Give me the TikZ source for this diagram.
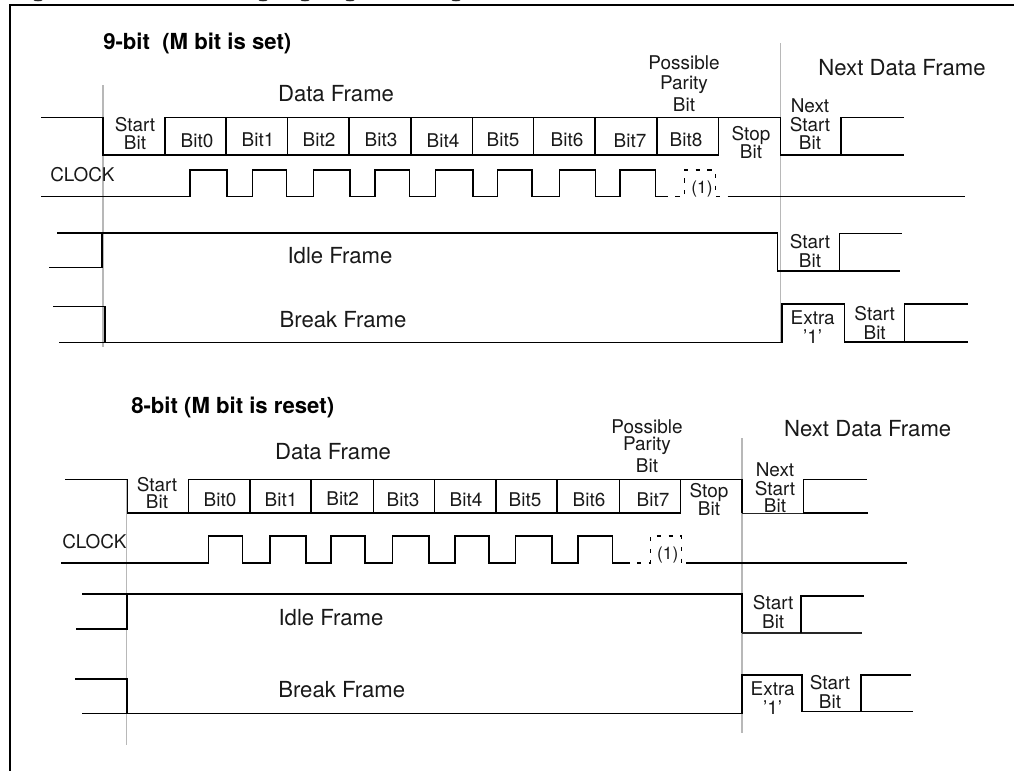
\documentclass[tikz,border=0pt]{standalone}
\usepackage{fontspec}
\setmainfont{TeX Gyre Heros}
\tikzset{
  wave/.style={line width=1.05pt,line cap=butt,line join=miter},
  thinwave/.style={line width=.6pt,draw=black!85},
  dash wave/.style={line width=1pt,dash pattern=on 3.2pt off 5.6pt},
  guide/.style={draw=black!28,line width=1.05pt},
  framebox/.style={line width=1.3pt},
  lab/.style={inner sep=0pt,align=center,font=\fontsize{14.2}{14.2}\selectfont,text=black!90},
  biglab/.style={inner sep=0pt,align=center,font=\fontsize{16.6}{18}\selectfont,text=black!90},
  ttl/.style={inner sep=0pt,anchor=west,font=\fontsize{16.6}{18}\selectfont\bfseries},
  small/.style={inner sep=0pt,font=\fontsize{13}{14}\selectfont,text=black!90},
}
\begin{document}
\begin{tikzpicture}[x=0.75pt,y=-0.75pt]
\useasboundingbox (0,0) rectangle (1014,771);
\clip (0,0) rectangle (1014,771);
% outer frame and the cut-off descenders of the caption above it
\draw[framebox] (10,771) -- (10,5) -- (1014,5);
\foreach \gx in {38,263,305,350,456} \fill[black!85] (\gx,0) ellipse [x radius=4.5,y radius=1.3];

% ---------- 9-bit ----------
\node[ttl] (t9) at (103,43) {9-bit\ \ (M bit is set)};
\draw[guide] (103,85) -- (103,347);
\draw[guide] (780.3,43) -- (780.3,343);
% data frame
\draw[wave] (41,117.5) -- (103,117.5) -- (103,155) -- (718.7,155);
\draw[wave] (165,155) -- (165,117.5) -- (780.3,117.5) -- (780.3,155) -- (904,155);
\foreach \bx in {226,287.7,349,411,472.3,533.7,595,657,718.7} \draw[wave] (\bx,117.5) -- (\bx,155);
\draw[wave] (841,155) -- (841,117.5) -- (904,117.5);
\node[biglab] (df9) at (336,94) {Data Frame};
\node[biglab] (ndf9) at (902,68) {Next Data Frame};
\node[lab] (pp9) at (684,83.5) {Possible\\[1pt]Parity\\[2.5pt]Bit};
\node[lab] (sb9) at (135,133.5) {Start\\Bit};
\node[lab] at (197,141) {Bit0};
\node[lab] at (258,140) {Bit1};
\node[lab] at (319,140) {Bit2};
\node[lab] at (381,140) {Bit3};
\node[lab] at (443,141) {Bit4};
\node[lab] at (503,140) {Bit5};
\node[lab] at (567,140) {Bit6};
\node[lab] at (630,141) {Bit7};
\node[lab] at (686,140) {Bit8};
\node[lab] at (751,142.5) {Stop\\Bit};
\node[lab] at (810,124) {Next\\Start\\[-1pt]Bit};
% clock
\node[lab,anchor=west] at (50,175) {CLOCK};
\draw[wave] (41,196.7) -- (190,196.7) -- (190,170) -- (227,170) -- (227,196.7)
  -- (252.3,196.7) -- (252.3,170) -- (286.3,170) -- (286.3,196.7)
  -- (313.3,196.7) -- (313.3,170) -- (350,170) -- (350,196.7)
  -- (375,196.7) -- (375,170) -- (409.3,170) -- (409.3,196.7)
  -- (435.7,196.7) -- (435.7,170) -- (473,170) -- (473,196.7)
  -- (497.7,196.7) -- (497.7,170) -- (532,170) -- (532,196.7)
  -- (559.3,196.7) -- (559.3,170) -- (595.3,170) -- (595.3,196.7)
  -- (620,196.7) -- (620,170) -- (655.3,170) -- (655.3,196.7) -- (663.7,196.7);
\draw[dash wave] (663.7,196.7) -- (684.7,196.7) -- (684.7,170) -- (715.3,170) -- (715.3,196.7) -- (732,196.7);
\draw[wave] (732,196.7) -- (965.3,196.7);
\node[small] at (702,189) {(1)};
% idle frame
\draw[wave] (49,267.7) -- (102,267.7) -- (102,233);
\draw[wave] (57,233) -- (777.7,233) -- (777.7,271) -- (899.7,271);
\draw[wave] (839.7,271) -- (839.7,233.7) -- (902,233.7);
\node[biglab] at (340,256) {Idle Frame};
\node[lab] at (810,251.2) {Start\\Bit};
% break frame
\draw[wave] (53,306.7) -- (105,306.7) -- (105,342.7);
\draw[wave] (59,342.7) -- (782,342.7) -- (782,304) -- (844.3,304) -- (844.3,342) -- (968,342);
\draw[wave] (904.7,342) -- (904.7,304) -- (968,304);
\node[biglab] at (343,319.3) {Break Frame};
\node[lab] at (812.7,327.2) {Extra\\’1’};
\node[lab] at (874.7,322.8) {Start\\Bit};

% ---------- 8-bit ----------
\node[ttl] (t8) at (131,407) {8-bit (M bit is reset)};
\draw[guide,line width=.8pt] (126.5,479) -- (126.5,745);
\draw[guide] (742,438) -- (742,732.7);
% data frame
\draw[wave] (65,479.3) -- (127.3,479.3) -- (127.3,513) -- (681.3,513);
\draw[wave] (188.7,513) -- (188.7,479.3) -- (742,479.3) -- (742,513);
\foreach \bx in {250,311,373.3,434.3,496,557,619.3,680.3} \draw[wave] (\bx,479.3) -- (\bx,513);
\draw[thinwave] (742,513) -- (803.7,513);
\draw[wave] (868,513) -- (803.7,513) -- (803.7,479.3) -- (867,479.3);
\node[biglab] at (333,451.7) {Data Frame};
\node[biglab] at (867.7,429) {Next Data Frame};
\node[lab] at (647,446.5) {Possible\\[-1.6pt]Parity\\[2.5pt]Bit};
\node[lab] at (157,492.8) {Start\\[-1pt]Bit};
\node[lab] at (220,500) {Bit0};
\node[lab] at (281,500) {Bit1};
\node[lab] at (342.7,499) {Bit2};
\node[lab] at (403,500) {Bit3};
\node[lab] at (466,500) {Bit4};
\node[lab] at (525,500) {Bit5};
\node[lab] at (589,500) {Bit6};
\node[lab] at (653,500) {Bit7};
\node[lab] at (709,499.5) {Stop\\[-1pt]Bit};
\node[lab] at (775,487.5) {Next\\Start\\[-1.3pt]Bit};
% clock
\node[lab,anchor=west] at (62,541.7) {CLOCK};
\draw[wave] (61,563) -- (208.3,563) -- (208.3,536) -- (242.3,536) -- (242.3,563)
  -- (270,563) -- (270,536) -- (306,536) -- (306,563)
  -- (331,563) -- (331,536) -- (365,536) -- (365,563)
  -- (392.7,563) -- (392.7,536) -- (429,536) -- (429,563)
  -- (455,563) -- (455,536) -- (489,536) -- (489,563)
  -- (515.3,563) -- (515.3,536) -- (552,536) -- (552,563)
  -- (578,563) -- (578,536) -- (612.3,536) -- (612.3,563) -- (625.3,563);
\draw[dash wave] (625.3,563) -- (650.3,563) -- (650.3,536) -- (681.3,536) -- (681.3,563) -- (686.3,563);
\draw[wave] (686.3,563) -- (907,563);
\node[small] at (667.7,555) {(1)};
% idle frame
\draw[wave] (76,629) -- (127,629) -- (127,594);
\draw[wave] (82,594) -- (742,594) -- (742,633);
\draw[thinwave,line width=.8pt] (742,633) -- (862,633);
\draw[wave] (801,633) -- (801,596) -- (863.7,596);
\node[biglab] at (331,617.3) {Idle Frame};
\node[lab] at (773.2,612.2) {Start\\Bit};
% break frame
\draw[wave] (75,679) -- (127,679) -- (127,713.7);
\draw[wave] (82,713.7) -- (742,713.7) -- (742,675) -- (802,675) -- (802,711.7) -- (913,711.7);
\draw[wave] (861,711.7) -- (861,675) -- (911,675);
\node[biglab] at (341.7,690) {Break Frame};
\node[lab] at (772.7,698.5) {Extra\\’1’};
\node[lab] at (830,691.8) {Start\\Bit};
\end{tikzpicture}
\end{document}
